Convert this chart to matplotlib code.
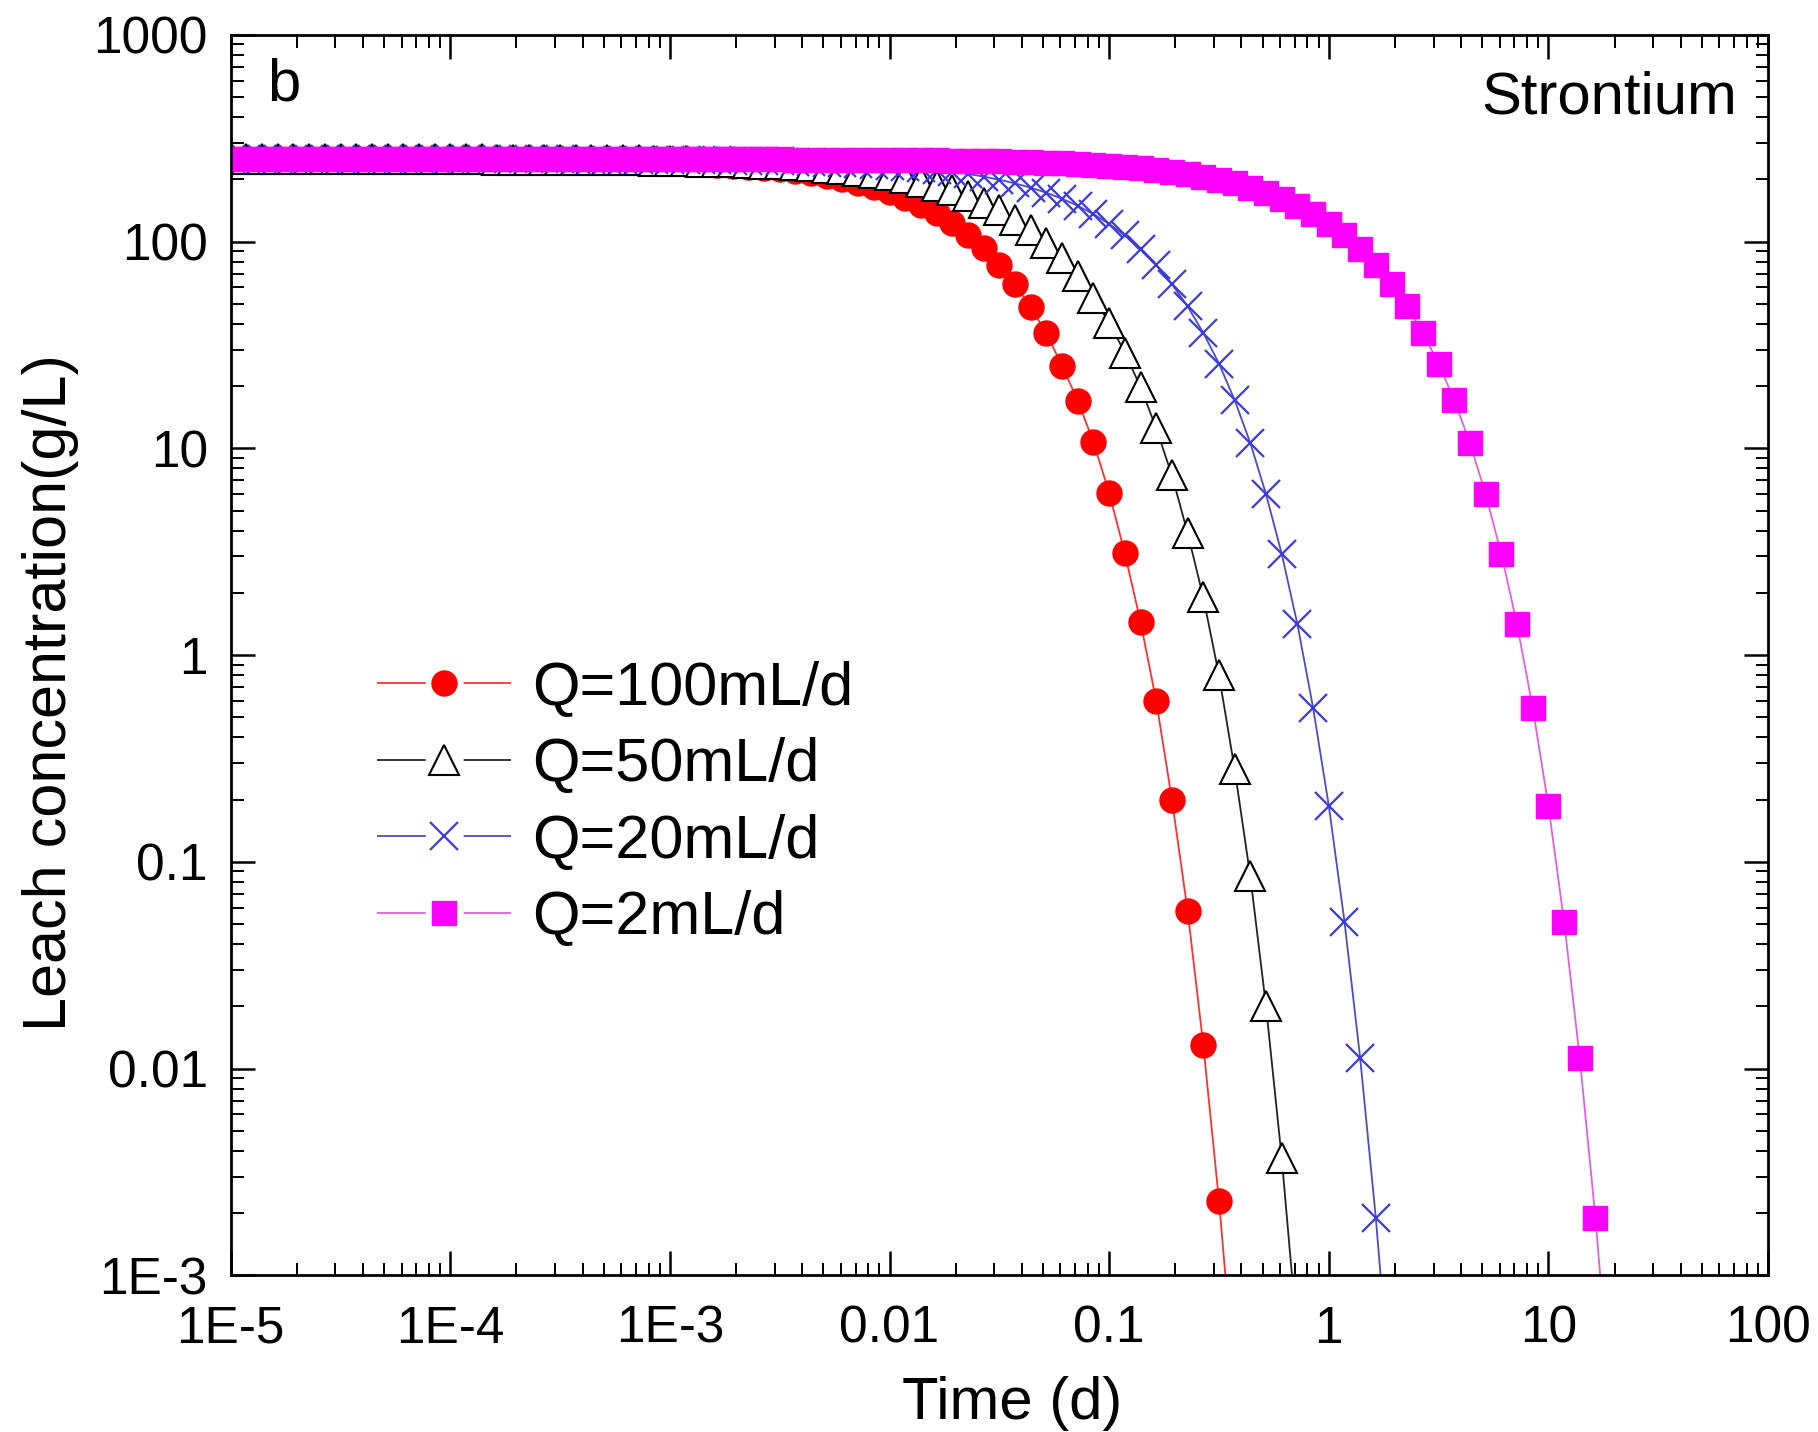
import numpy as np
import matplotlib

matplotlib.use("Agg")
import matplotlib.pyplot as plt
from matplotlib.lines import Line2D
from matplotlib.ticker import LogLocator, NullFormatter

plt.rcParams["font.family"] = ["Liberation Sans", "DejaVu Sans"]

# sampling times (d), 14 per decade
time_d = [
    8.483e-6,
    1.000e-5, 1.179e-5, 1.389e-5, 1.638e-5, 1.931e-5, 2.276e-5, 2.683e-5,
    3.162e-5, 3.728e-5, 4.394e-5, 5.179e-5, 6.105e-5, 7.197e-5, 8.483e-5,
    1.000e-4, 1.179e-4, 1.389e-4, 1.638e-4, 1.931e-4, 2.276e-4, 2.683e-4,
    3.162e-4, 3.728e-4, 4.394e-4, 5.179e-4, 6.105e-4, 7.197e-4, 8.483e-4,
    1.000e-3, 1.179e-3, 1.389e-3, 1.638e-3, 1.931e-3, 2.276e-3, 2.683e-3,
    3.162e-3, 3.728e-3, 4.394e-3, 5.179e-3, 6.105e-3, 7.197e-3, 8.483e-3,
    1.000e-2, 1.179e-2, 1.389e-2, 1.638e-2, 1.931e-2, 2.276e-2, 2.683e-2,
    3.162e-2, 3.728e-2, 4.394e-2, 5.179e-2, 6.105e-2, 7.197e-2, 8.483e-2,
    0.1000, 0.1179, 0.1389, 0.1638, 0.1931, 0.2276, 0.2683,
    0.3162, 0.3728, 0.4394, 0.5179, 0.6105, 0.7197, 0.8483,
    1.000, 1.179, 1.389, 1.638, 1.931, 2.276, 2.683,
    3.162, 3.728, 4.394, 5.179, 6.105, 7.197, 8.483,
    10.00, 11.79, 13.89, 16.38, 19.31,
]

# leach concentration (g/L) for each flow rate, one row per decade of time
conc_q100 = [
    250,
    250, 250, 250, 250, 250, 250, 250, 250, 250, 250, 250, 249.5, 249.4, 249.2,
    249.1, 248.9, 248.8, 248.5, 248.3, 248.0, 247.6, 247.2, 246.7, 246.1, 245.4, 244.6, 243.6, 242.5,
    241.2, 239.6, 237.8, 235.7, 233.2, 230.3, 227.0, 223.1, 218.6, 213.4, 207.5, 200.7, 192.9, 184.2,
    173, 162, 150, 137, 123, 108, 93, 77, 62, 48, 36, 25, 17, 10.7,
    6.1, 3.1, 1.45, 0.6, 0.2, 0.058, 0.013, 0.0023, 0.0003,
]
conc_q50 = [
    250,
    250, 250, 250, 250, 250, 250, 250, 250, 250, 250, 249.8, 249.8, 249.7, 249.6,
    249.6, 249.5, 249.4, 249.3, 249.1, 249.0, 248.8, 248.6, 248.3, 248.0, 247.7, 247.3, 246.8, 246.2,
    245.5, 244.8, 243.8, 242.7, 241.5, 240.0, 238.2, 236.2, 233.8, 231.0, 227.7, 224.0, 219.6, 214.6,
    208.8, 202.2, 194.7, 186.2, 176.6, 166.0, 154.2, 141.5, 127.8, 113.4, 98.4, 83, 67.8, 53.5,
    40.5, 29, 19.8, 12.5, 7.4, 3.9, 1.9, 0.8, 0.28, 0.085, 0.02, 0.0037, 0.0005,
]
conc_q20 = [
    250,
    250, 250, 250, 250, 250, 250, 250, 250, 250, 250, 250, 250, 250, 250,
    249.8, 249.8, 249.8, 249.7, 249.7, 249.6, 249.5, 249.4, 249.3, 249.2, 249.1, 248.9, 248.7, 248.5,
    248.2, 247.9, 247.5, 247.1, 246.5, 245.9, 245.2, 244.4, 243.4, 242.2, 240.8, 239.2, 237.4, 235.2,
    232.6, 229.7, 226.2, 222.2, 217.6, 212.2, 206.1, 199.1, 191.1, 182.2, 172.2, 161.1, 148.9, 135.7,
    121.7, 107.0, 92.0, 76.9, 62.2, 48.6, 36.2, 25.7, 17.1, 10.6, 6.00, 3.09, 1.41, 0.557,
    0.187, 0.0514, 0.0113, 0.00189, 0.00023,
]
conc_q2 = [
    250,
    250, 250, 250, 250, 250, 250, 250, 250, 250, 250, 250, 250, 250, 250,
    250, 250, 250, 250, 250, 250, 250, 250, 250, 250, 250, 250, 250, 250,
    249.8, 249.8, 249.8, 249.7, 249.7, 249.6, 249.5, 249.4, 249.3, 249.2, 249.1, 248.9, 248.7, 248.5,
    248.2, 247.9, 247.5, 247.1, 246.5, 245.9, 245.2, 244.4, 243.4, 242.2, 240.8, 239.2, 237.4, 235.2,
    232.6, 229.7, 226.2, 222.2, 217.6, 212.2, 206.1, 199.1, 191.1, 182.2, 172.2, 161.1, 148.9, 135.7,
    121.7, 107.0, 92.0, 76.9, 62.2, 48.6, 36.2, 25.7, 17.1, 10.6, 6.00, 3.09, 1.41, 0.557,
    0.187, 0.0514, 0.0113, 0.00189, 0.00023,
]

x_ticks = [1e-5, 1e-4, 1e-3, 1e-2, 1e-1, 1, 10, 100]
x_ticklabels = ["1E-5", "1E-4", "1E-3", "0.01", "0.1", "1", "10", "100"]
y_ticks = [1e-3, 1e-2, 1e-1, 1, 10, 100, 1000]
y_ticklabels = ["1E-3", "0.01", "0.1", "1", "10", "100", "1000"]

fig = plt.figure(figsize=(18.18, 14.32), dpi=100)
ax = fig.add_axes([0.1269, 0.1094, 0.8456, 0.8663])

series = [
    (conc_q100, "Q=100mL/d", dict(color="#ff3030", marker="o", markersize=18,
                                  markerfacecolor="#ff0000", markeredgecolor="#ff0000")),
    (conc_q50, "Q=50mL/d", dict(color="#222222", marker="^", markersize=21,
                                markerfacecolor="white", markeredgecolor="black",
                                markeredgewidth=1.5)),
    (conc_q20, "Q=20mL/d", dict(color="#4a4ad0", marker="x", markersize=20,
                                markeredgecolor="#3a3ae0", markeredgewidth=1.6)),
    (conc_q2, "Q=2mL/d", dict(color="#e060e0", marker="s", markersize=17,
                              markerfacecolor="#ff00ff", markeredgecolor="#ff00ff")),
]
handles = []
for conc, label, style in series:
    ax.plot(time_d[:len(conc)], conc, linewidth=1.3, **style)
    # legend key: line broken around the symbol
    handles.append(Line2D([], [], linewidth=1.3, linestyle=(0, (27, 21, 27, 100)),
                          label=label, **style))

ax.set_xscale("log")
ax.set_yscale("log")
ax.set_xlim(1e-5, 100)
ax.set_ylim(1e-3, 1000)

ax.set_xticks(x_ticks)
ax.set_xticklabels(x_ticklabels)
ax.set_yticks(y_ticks)
ax.set_yticklabels(y_ticklabels)
ax.xaxis.set_minor_locator(LogLocator(base=10, subs=np.arange(2, 10), numticks=100))
ax.yaxis.set_minor_locator(LogLocator(base=10, subs=np.arange(2, 10), numticks=100))
ax.xaxis.set_minor_formatter(NullFormatter())
ax.yaxis.set_minor_formatter(NullFormatter())

ax.tick_params(which="both", direction="in", top=True, right=True)
ax.tick_params(which="major", length=17, width=1.8, labelsize=37)
ax.tick_params(axis="x", which="major", pad=21)
ax.tick_params(axis="y", which="major", pad=16.5)
ax.tick_params(which="minor", length=9, width=1.4)
for spine in ax.spines.values():
    spine.set_linewidth(2)

ax.set_xlabel("Time (d)", fontsize=43)
ax.xaxis.set_label_coords(0.508, -0.081)
ax.set_ylabel("Leach concentration(g/L)", fontsize=44)
ax.yaxis.set_label_coords(-0.099, 0.47)

ax.text(0.024, 0.982, "b", transform=ax.transAxes, fontsize=43, va="top", ha="left")
ax.text(0.98, 0.9715, "Strontium", transform=ax.transAxes, fontsize=43, va="top", ha="right")

ax.legend(handles=handles, loc="center left", bbox_to_anchor=(0.095, 0.38), frameon=False,
          fontsize=44, handlelength=2.2, handletextpad=0.35, labelspacing=0.32,
          borderpad=0, borderaxespad=0)

fig.savefig("out.png", dpi=100)
